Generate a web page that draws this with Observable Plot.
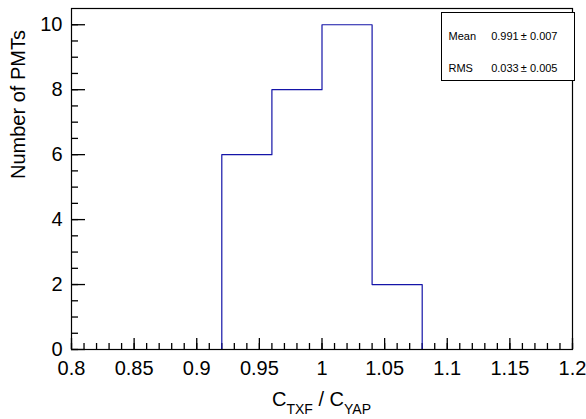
<!DOCTYPE html>
<html>
<head>
<meta charset="utf-8">
<script src="https://cdn.jsdelivr.net/npm/d3@7"></script>
<script src="https://cdn.jsdelivr.net/npm/@observablehq/plot@0.6"></script>
<style>
  html, body { margin: 0; padding: 0; background: #fff; }
  #chart { width: 586px; height: 419px; }
</style>
</head>
<body>
<div id="chart"></div>
<script>
// Histogram of the TXF/YAP calibration ratio per PMT
const binEdges = [0.92, 0.96, 1.00, 1.04, 1.08];
const binCounts = [6, 8, 10, 2];

const xTickValues = [0.8, 0.85, 0.9, 0.95, 1, 1.05, 1.1, 1.15, 1.2];
const yTickValues = [0, 2, 4, 6, 8, 10];

const statNames = ["Mean", "RMS"];
const statValues = ["0.991\u2009\u00b1 0.007", "0.033\u2009\u00b1 0.005"];

const font = "'Liberation Sans', Arial, Helvetica, sans-serif";

// Outline of the histogram as a closed step path
const outline = [{x: binEdges[0], y: 0}];
binCounts.forEach((c, i) => {
  outline.push({x: binEdges[i], y: c});
  outline.push({x: binEdges[i + 1], y: c});
});
outline.push({x: binEdges[binEdges.length - 1], y: 0});

const xMinor = d3.range(0.8, 1.2001, 0.01).map(v => +v.toFixed(2));
const yMinor = d3.range(0, 10.01, 0.5);

const W = 586, H = 419;
const mL = 71, mR = 14, mT = 8, mB = 70;
const frameW = W - mL - mR, frameH = H - mT - mB;

const chart = Plot.plot({
  width: W,
  height: H,
  marginLeft: mL,
  marginRight: mR,
  marginTop: mT,
  marginBottom: mB,
  style: {fontFamily: font, fontSize: "20px", background: "#fff", color: "#000"},
  x: {domain: [0.8, 1.2]},
  y: {domain: [0, 10.5]},
  marks: [
    // ticks pointing into the frame (rules trimmed to tick length)
    Plot.ruleX(xMinor, {x: d => d, insetTop: frameH - 6, stroke: "#000", strokeWidth: 1.3}),
    Plot.ruleX(xTickValues, {x: d => d, insetTop: frameH - 11, stroke: "#000", strokeWidth: 1.3}),
    Plot.ruleY(yMinor, {y: d => d, insetRight: frameW - 7, stroke: "#000", strokeWidth: 1.3}),
    Plot.ruleY(yTickValues, {y: d => d, insetRight: frameW - 14, stroke: "#000", strokeWidth: 1.3}),
    // tick labels
    Plot.axisX(xTickValues, {anchor: "bottom", tickSize: 0, tickPadding: 11, tickFormat: d => d3.format("~g")(d), label: null, fontSize: 20}),
    Plot.axisY(yTickValues, {anchor: "left", tickSize: 0, tickPadding: 9, tickFormat: d => d3.format("~g")(d), label: null, fontSize: 20}),
    Plot.line(outline, {x: "x", y: "y", stroke: "#1414a8", strokeWidth: 1.2}),
    Plot.frame({stroke: "#000", strokeWidth: 1.2}),
    // statistics box
    Plot.frame({insetLeft: 370, insetRight: -2, insetTop: 4, insetBottom: 269, fill: "#fff", stroke: "#000", strokeWidth: 1}),
    Plot.text([statNames[0]], {frameAnchor: "top-left", dx: 377, dy: 24, text: d => d, textAnchor: "start", fontSize: 11}),
    Plot.text([statValues[0]], {frameAnchor: "top-right", dx: -15, dy: 24, text: d => d, textAnchor: "end", fontSize: 11}),
    Plot.text([statNames[1]], {frameAnchor: "top-left", dx: 377, dy: 56, text: d => d, textAnchor: "start", fontSize: 11}),
    Plot.text([statValues[1]], {frameAnchor: "top-right", dx: -15, dy: 56, text: d => d, textAnchor: "end", fontSize: 11}),
    // y axis title
    Plot.text(["Number of PMTs"], {frameAnchor: "left", dx: -53, rotate: -90, text: d => d, fontSize: 20})
  ]
});

document.getElementById("chart").appendChild(chart);

// x axis title with subscripts
const svg = d3.select(chart);
const t = svg.append("text")
  .attr("x", (mL + (W - mR)) / 2)
  .attr("y", 406)
  .attr("text-anchor", "middle")
  .attr("font-family", font)
  .attr("font-size", 20)
  .attr("fill", "#000");
t.append("tspan").text("C");
t.append("tspan").attr("font-size", 14).attr("dy", 8).text("TXF");
t.append("tspan").attr("dy", -8).text(" / C");
t.append("tspan").attr("font-size", 14).attr("dy", 8).text("YAP");
</script>
</body>
</html>
